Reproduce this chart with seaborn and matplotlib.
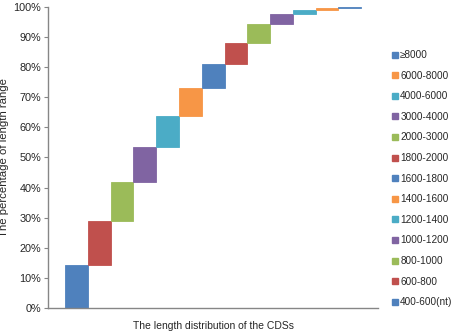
import numpy as np
import pandas as pd
import matplotlib
matplotlib.use("Agg")
import matplotlib.pyplot as plt
import matplotlib.patches as mpatches
from matplotlib.ticker import PercentFormatter
import seaborn as sns

# length ranges (bottom of the stack first) and their share of all CDSs (%)
ranges = ["400-600(nt)", "600-800", "800-1000", "1000-1200", "1200-1400", "1400-1600",
          "1600-1800", "1800-2000", "2000-3000", "3000-4000", "4000-6000", "6000-8000", "\u22658000"]
share = [14.5, 14.6, 12.8, 11.7, 10.1, 9.2, 8.1, 7.1, 6.3, 3.1, 1.5, 0.7, 0.3]
office = ["#4F81BD", "#C0504D", "#9BBB59", "#8064A2", "#4BACC6", "#F79646"]

sns.set_style("white")
plt.rcParams["font.family"] = ["Liberation Sans", "DejaVu Sans"]

df = pd.DataFrame({"range": ranges, "share": np.array(share) / 100})
df["bottom"] = df["share"].cumsum() - df["share"]
colors = [office[i % len(office)] for i in range(len(df))]

fig = plt.figure(figsize=(4.54, 3.34), dpi=100)
ax = fig.add_axes([0.106, 0.077, 0.727, 0.903])

sns.barplot(data=df, x="range", y="share", bottom=df["bottom"].values, width=1.0,
            order=ranges, ax=ax, color=office[0], saturation=1, linewidth=0.6)
for p, c in zip(ax.patches, colors):
    p.set_facecolor(c)
    p.set_edgecolor(c)

ax.set_xlim(-1.25, len(ranges) + 0.25)
ax.set_ylim(0, 1)
ax.set_yticks(np.arange(0, 1.01, 0.1))
ax.yaxis.set_major_formatter(PercentFormatter(1.0, decimals=0))
ax.set_xticks([])
ax.tick_params(axis="y", labelsize=7.8, length=3, width=0.8, color="#868686",
               direction="out", left=True, pad=2)
for s in ["top", "right"]:
    ax.spines[s].set_visible(False)
for s in ["left", "bottom"]:
    ax.spines[s].set_color("#868686")
    ax.spines[s].set_linewidth(1.0)

ax.set_xlabel("The length distribution of the CDSs", fontsize=7.5, labelpad=9)
ax.set_ylabel("The percentage of length range", fontsize=8.2, labelpad=3)

handles = [mpatches.Patch(facecolor=c, edgecolor=c, label=r) for r, c in zip(ranges, colors)]
leg = fig.legend(handles=handles[::-1], loc="upper left", bbox_to_anchor=(0.855, 0.862),
                 frameon=False, fontsize=7.2, handlelength=0.55, handleheight=0.55,
                 handletextpad=0.25, labelspacing=1.06, borderaxespad=0)

fig.savefig("out.png", dpi=100)
